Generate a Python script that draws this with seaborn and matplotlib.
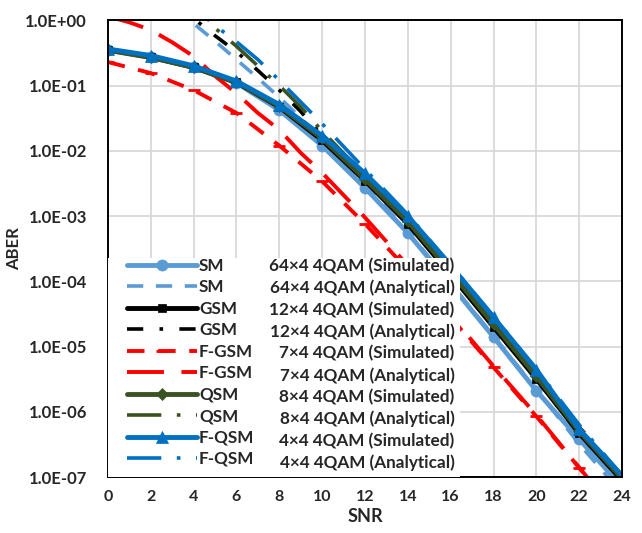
import numpy as np
import pandas as pd
import seaborn as sns
import matplotlib.pyplot as plt
from matplotlib.lines import Line2D
from matplotlib.patches import Rectangle
from matplotlib.ticker import FuncFormatter

# ------------------ DATA (ABER) ------------------
SNR_SIM = [0, 2, 4, 6, 8, 10, 12, 14, 16, 18, 20, 22, 24]
SNR_ANA = [3, 4, 5, 6, 7, 8, 9, 10, 12, 14, 16, 18, 20, 22, 24]
SNR_FGSM_ANA = [0, 1, 2, 3, 4, 5, 6, 7, 8, 9, 10, 12, 14, 16, 18, 20, 22, 24]

SM_SIM = [3.5e-1, 2.7e-1, 1.9e-1, 1.1e-1, 4.2e-2, 1.2e-2, 2.7e-3, 5.5e-4, 8.9e-5, 1.4e-5, 2.1e-6, 3.8e-7, 7.1e-8]
SM_ANA = [1.5, 0.89, 0.48, 0.25, 0.13, 6.6e-2, 3.2e-2, 1.4e-2, 3.0e-3, 5.8e-4, 9.3e-5, 1.45e-5, 2.2e-6, 3.2e-7, 5.6e-8]
GSM_SIM = [3.55e-1, 2.75e-1, 1.9e-1, 1.12e-1, 4.7e-2, 1.45e-2, 3.5e-3, 7.6e-4, 1.26e-4, 2.0e-5, 3.2e-6, 4.7e-7, 8.9e-8]
GSM_ANA = [1.8, 1.07, 0.58, 0.33, 0.17, 8.5e-2, 4.0e-2, 1.7e-2, 3.8e-3, 7.9e-4, 1.3e-4, 2.1e-5, 3.2e-6, 4.5e-7, 8.9e-8]
FGSM_SIM = [2.29e-1, 1.55e-1, 8.5e-2, 3.8e-2, 1.2e-2, 3.4e-3, 7.6e-4, 1.5e-4, 2.8e-5, 4.8e-6, 8.5e-7, 1.38e-7, 2.2e-8]
FGSM_ANA = [1.15, 0.93, 0.71, 0.46, 0.28, 0.14, 7.6e-2, 3.8e-2, 2.1e-2, 9.3e-3, 4.6e-3, 9.5e-4, 1.74e-4, 3.0e-5, 5.0e-6, 8.9e-7, 1.4e-7, 2.2e-8]
QSM_SIM = [3.47e-1, 2.69e-1, 1.9e-1, 1.12e-1, 4.8e-2, 1.55e-2, 3.7e-3, 8.3e-4, 1.38e-4, 2.2e-5, 3.5e-6, 5.0e-7, 9.5e-8]
QSM_ANA = [2.4, 1.4, 0.76, 0.4, 0.2, 0.1, 4.7e-2, 2.0e-2, 4.2e-3, 8.7e-4, 1.45e-4, 2.3e-5, 3.5e-6, 5.0e-7, 9.5e-8]
FQSM_SIM = [3.63e-1, 2.88e-1, 2.0e-1, 1.17e-1, 5.1e-2, 1.7e-2, 4.5e-3, 1.0e-3, 1.74e-4, 2.8e-5, 4.4e-6, 5.4e-7, 1.05e-7]
FQSM_ANA = [2.8, 1.6, 0.83, 0.47, 0.25, 0.12, 5.6e-2, 2.6e-2, 5.2e-3, 1.05e-3, 1.8e-4, 2.9e-5, 4.5e-6, 6.3e-7, 1.05e-7]

SCHEMES = ['SM', 'SM', 'GSM', 'GSM', 'F-GSM', 'F-GSM', 'QSM', 'QSM', 'F-QSM', 'F-QSM']
CONFIGS = ['64×4 4QAM (Simulated)', '64×4 4QAM (Analytical)',
           '12×4 4QAM (Simulated)', '12×4 4QAM (Analytical)',
           '7×4 4QAM (Simulated)', '7×4 4QAM (Analytical)',
           '8×4 4QAM (Simulated)', '8×4 4QAM (Analytical)',
           '4×4 4QAM (Simulated)', '4×4 4QAM (Analytical)']
X_TICKS = list(range(0, 26, 2))
Y_TICKS = [1e0, 1e-1, 1e-2, 1e-3, 1e-4, 1e-5, 1e-6, 1e-7]
# ---------------------------------------------------------------------

SERIES = [
    (SNR_SIM, SM_SIM), (SNR_ANA, SM_ANA),
    (SNR_SIM, GSM_SIM), (SNR_ANA, GSM_ANA),
    (SNR_SIM, FGSM_SIM), (SNR_FGSM_ANA, FGSM_ANA),
    (SNR_SIM, QSM_SIM), (SNR_ANA, QSM_ANA),
    (SNR_SIM, FQSM_SIM), (SNR_ANA, FQSM_ANA),
]

LIGHT_BLUE = '#5B9BD5'
RED = '#FF0000'
GREEN = '#3B5323'
BLUE = '#0070C0'

STYLES = [
    dict(color=LIGHT_BLUE, lw=3.5, ls='-', marker='o', ms=8),
    dict(color=LIGHT_BLUE, lw=2.6, ls=(0, (4.5, 3.5)), marker=None, ms=0),
    dict(color='black', lw=3.5, ls='-', marker='s', ms=6),
    dict(color='black', lw=2.6, ls=(0, (4.5, 4.5, 1, 4.5)), marker=None, ms=0),
    dict(color=RED, lw=2.8, ls=(0, (4.5, 3.5)), marker='_', ms=8),
    dict(color=RED, lw=2.8, ls=(0, (9.5, 4.5)), marker=None, ms=0),
    dict(color=GREEN, lw=3.5, ls='-', marker='D', ms=6.5),
    dict(color=GREEN, lw=2.6, ls=(0, (9.5, 4.3, 1, 4.3)), marker=None, ms=0),
    dict(color=BLUE, lw=3.5, ls='-', marker='^', ms=9),
    dict(color=BLUE, lw=2.6, ls=(0, (9.5, 4.3, 1, 4.3)), marker=None, ms=0),
]

sns.set_style('white')
plt.rcParams['font.family'] = ['Lato', 'DejaVu Sans']
plt.rcParams['font.weight'] = 'bold'

fig, ax = plt.subplots(figsize=(6.42, 5.33), dpi=100)
fig.subplots_adjust(left=0.168, right=0.969, bottom=0.105, top=0.962)
ax.set_yscale('log')

for (x, y), st in zip(SERIES, STYLES):
    df = pd.DataFrame({'SNR': x, 'ABER': y})
    kws = dict(color=st['color'], linewidth=st['lw'], linestyle=st['ls'])
    if st['marker']:
        kws.update(marker=st['marker'], markersize=st['ms'],
                   markeredgecolor=st['color'], markerfacecolor=st['color'],
                   markeredgewidth=2 if st['marker'] == '_' else 0.5)
    sns.lineplot(data=df, x='SNR', y='ABER', ax=ax, legend=False, errorbar=None, **kws)

ax.set_xlim(0, 24)
ax.set_ylim(1e-7, 1)
ax.set_xticks(X_TICKS)
ax.set_yticks(Y_TICKS)
ax.yaxis.set_minor_locator(plt.NullLocator())
ax.yaxis.set_major_formatter(FuncFormatter(lambda v, p: f'{v:.1E}'))
ax.grid(True, color='#D9D9D9', linewidth=1.3)
ax.set_axisbelow(True)
ax.tick_params(axis='x', direction='in', length=4, width=1, color='black',
               labelsize=11.5, pad=9)
ax.tick_params(axis='y', length=0, labelsize=12, pad=15)
for lab in ax.get_xticklabels() + ax.get_yticklabels():
    lab.set_fontweight('bold')
for sp in ax.spines.values():
    sp.set_color('black')
    sp.set_linewidth(1.4)

ax.set_xlabel('SNR', fontsize=13, fontweight='bold', labelpad=3)
ax.set_ylabel('ABER', fontsize=12, fontweight='bold', labelpad=2)

# white box behind the two-column legend
ax.add_patch(Rectangle((0, 0), 0.685, 0.479, transform=ax.transAxes,
                       facecolor='white', edgecolor='none', zorder=4))

lines = ax.get_lines()
prop = dict(size=12.3, weight='bold')
leg1 = ax.legend(lines, SCHEMES, loc='upper left', bbox_to_anchor=(0.037, 0.480),
                 frameon=False, borderpad=0, borderaxespad=0, handlelength=4.1,
                 handletextpad=0.12, labelspacing=0.32, prop=prop)
ax.add_artist(leg1)
blanks = [Line2D([], [], color='none') for _ in CONFIGS]
leg2 = ax.legend(blanks, CONFIGS, loc='upper right', bbox_to_anchor=(0.674, 0.480),
                 frameon=False, borderpad=0, borderaxespad=0, handlelength=0,
                 handletextpad=0, labelspacing=0.32, markerfirst=False, prop=prop)

fig.savefig('out.png', dpi=100)
